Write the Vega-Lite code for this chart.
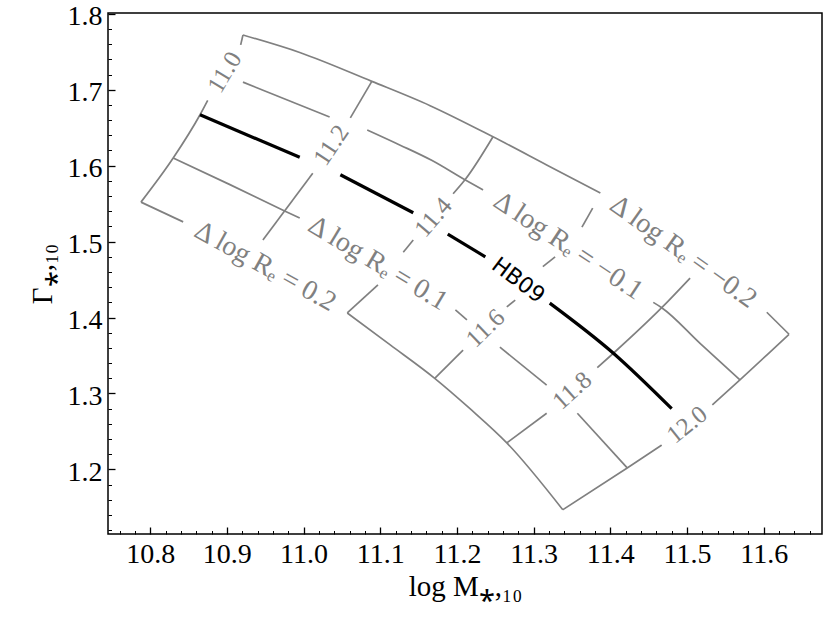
{
  "$schema": "https://vega.github.io/schema/vega-lite/v6.json",
  "width": 714,
  "height": 521,
  "autosize": "none",
  "padding": {"left": 108, "top": 13, "right": 8, "bottom": 89},
  "background": "white",
  "config": {
    "view": {"stroke": "#000", "strokeWidth": 1.5},
    "axis": {"grid": false, "domain": false}
  },
  "datasets": {
    "grid": [
      {"s": "m110a", "x": 10.788, "y": 1.552}, {"s": "m110a", "x": 10.830, "y": 1.610}, {"s": "m110a", "x": 10.865, "y": 1.667}, {"s": "m110a", "x": 10.875, "y": 1.686},
      {"s": "m110b", "x": 10.918, "y": 1.759}, {"s": "m110b", "x": 10.921, "y": 1.772},
      {"s": "rm2a", "x": 10.921, "y": 1.772}, {"s": "rm2a", "x": 10.995, "y": 1.749}, {"s": "rm2a", "x": 11.089, "y": 1.711}, {"s": "rm2a", "x": 11.165, "y": 1.679}, {"s": "rm2a", "x": 11.247, "y": 1.638}, {"s": "rm2a", "x": 11.317, "y": 1.601}, {"s": "rm2a", "x": 11.387, "y": 1.564},
      {"s": "rm2b", "x": 11.604, "y": 1.407}, {"s": "rm2b", "x": 11.633, "y": 1.378},
      {"s": "rm1a", "x": 10.921, "y": 1.710}, {"s": "rm1a", "x": 11.034, "y": 1.664},
      {"s": "rm1b", "x": 11.083, "y": 1.647}, {"s": "rm1b", "x": 11.126, "y": 1.627}, {"s": "rm1b", "x": 11.167, "y": 1.607}, {"s": "rm1b", "x": 11.211, "y": 1.581}, {"s": "rm1b", "x": 11.234, "y": 1.568},
      {"s": "rm1c", "x": 11.456, "y": 1.420}, {"s": "rm1c", "x": 11.467, "y": 1.413}, {"s": "rm1c", "x": 11.517, "y": 1.366}, {"s": "rm1c", "x": 11.569, "y": 1.318},
      {"s": "rp1a", "x": 10.830, "y": 1.610}, {"s": "rp1a", "x": 10.904, "y": 1.575}, {"s": "rp1a", "x": 10.976, "y": 1.540}, {"s": "rp1a", "x": 10.995, "y": 1.531},
      {"s": "rp1b", "x": 11.198, "y": 1.410}, {"s": "rp1b", "x": 11.213, "y": 1.397},
      {"s": "rp1c", "x": 11.256, "y": 1.361}, {"s": "rp1c", "x": 11.317, "y": 1.311},
      {"s": "rp1d", "x": 11.357, "y": 1.274}, {"s": "rp1d", "x": 11.422, "y": 1.202},
      {"s": "rp2a", "x": 10.788, "y": 1.552}, {"s": "rp2a", "x": 10.843, "y": 1.526},
      {"s": "rp2b", "x": 11.057, "y": 1.406}, {"s": "rp2b", "x": 11.113, "y": 1.364}, {"s": "rp2b", "x": 11.171, "y": 1.320}, {"s": "rp2b", "x": 11.217, "y": 1.280}, {"s": "rp2b", "x": 11.265, "y": 1.235}, {"s": "rp2b", "x": 11.338, "y": 1.147},
      {"s": "m112a", "x": 10.947, "y": 1.502}, {"s": "m112a", "x": 11.012, "y": 1.590},
      {"s": "m112b", "x": 11.061, "y": 1.663}, {"s": "m112b", "x": 11.089, "y": 1.711},
      {"s": "m114a", "x": 11.057, "y": 1.406}, {"s": "m114a", "x": 11.097, "y": 1.443},
      {"s": "m114b", "x": 11.130, "y": 1.486}, {"s": "m114b", "x": 11.143, "y": 1.502},
      {"s": "m114c", "x": 11.195, "y": 1.563}, {"s": "m114c", "x": 11.211, "y": 1.582}, {"s": "m114c", "x": 11.247, "y": 1.638},
      {"s": "m116a", "x": 11.171, "y": 1.320}, {"s": "m116a", "x": 11.208, "y": 1.357},
      {"s": "m116b", "x": 11.265, "y": 1.414}, {"s": "m116b", "x": 11.276, "y": 1.423},
      {"s": "m116c", "x": 11.312, "y": 1.467}, {"s": "m116c", "x": 11.328, "y": 1.480},
      {"s": "m116d", "x": 11.363, "y": 1.519}, {"s": "m116d", "x": 11.377, "y": 1.544},
      {"s": "m118a", "x": 11.265, "y": 1.235}, {"s": "m118a", "x": 11.317, "y": 1.274},
      {"s": "m118b", "x": 11.383, "y": 1.334}, {"s": "m118b", "x": 11.404, "y": 1.353}, {"s": "m118b", "x": 11.467, "y": 1.413}, {"s": "m118b", "x": 11.504, "y": 1.452},
      {"s": "m120a", "x": 11.338, "y": 1.147}, {"s": "m120a", "x": 11.422, "y": 1.202}, {"s": "m120a", "x": 11.467, "y": 1.232},
      {"s": "m120b", "x": 11.533, "y": 1.285}, {"s": "m120b", "x": 11.569, "y": 1.318}, {"s": "m120b", "x": 11.633, "y": 1.378}
    ],
    "hb": [
      {"s": "h1", "x": 10.865, "y": 1.667}, {"s": "h1", "x": 10.995, "y": 1.611},
      {"s": "h2", "x": 11.048, "y": 1.588}, {"s": "h2", "x": 11.143, "y": 1.538},
      {"s": "h3", "x": 11.188, "y": 1.510}, {"s": "h3", "x": 11.237, "y": 1.480},
      {"s": "h4", "x": 11.321, "y": 1.419}, {"s": "h4", "x": 11.404, "y": 1.353}, {"s": "h4", "x": 11.480, "y": 1.280}
    ],
    "labels": [
      {"t": "11.0", "x": 10.897, "y": 1.723},
      {"t": "11.2", "x": 11.036, "y": 1.627},
      {"t": "11.4", "x": 11.169, "y": 1.532},
      {"t": "11.6", "x": 11.237, "y": 1.386},
      {"t": "11.8", "x": 11.350, "y": 1.304},
      {"t": "12.0", "x": 11.500, "y": 1.259},
      {"t": "Δ log Rₑ = 0.2", "x": 10.950, "y": 1.467},
      {"t": "Δ log Rₑ = 0.1", "x": 11.097, "y": 1.471},
      {"t": "Δ log Rₑ = −0.1", "x": 11.345, "y": 1.494},
      {"t": "Δ log Rₑ = −0.2", "x": 11.495, "y": 1.486},
      {"t": "HB09", "x": 11.280, "y": 1.449}
    ]
  },
  "layer": [
    {
      "data": {"name": "grid"},
      "mark": {"type": "line", "color": "#808080", "strokeWidth": 1.7, "interpolate": "monotone"},
      "encoding": {
        "x": {"field": "x", "type": "quantitative", "scale": {"domain": [10.745, 11.676], "nice": false, "zero": false},
          "axis": {"orient": "bottom", "values": [10.8, 10.9, 11.0, 11.1, 11.2, 11.3, 11.4, 11.5, 11.6], "format": ".1f", "ticks": false, "domain": false, "grid": false,
            "labelFont": "Liberation Serif", "labelFontSize": 28, "labelColor": "#000", "labelPadding": 6, "labelFlush": false, "labelOverlap": false,
            "title": "log M⁎,₁₀", "titleFont": "Liberation Serif", "titleFontSize": 29, "titleFontWeight": "normal", "titleColor": "#000", "titlePadding": 4}},
        "y": {"field": "y", "type": "quantitative", "scale": {"domain": [1.115, 1.801], "nice": false, "zero": false},
          "axis": {"orient": "left", "values": [1.2, 1.3, 1.4, 1.5, 1.6, 1.7, 1.8], "format": ".1f", "ticks": false, "domain": false, "grid": false,
            "labelFont": "Liberation Serif", "labelFontSize": 28, "labelColor": "#000", "labelPadding": 6, "labelFlush": false, "labelOverlap": false,
            "labelBaseline": "alphabetic", "labelOffset": 11,
            "title": "Γ⁎,₁₀", "titleFont": "Liberation Serif", "titleFontSize": 29, "titleFontWeight": "normal", "titleColor": "#000", "titlePadding": 10}},
        "detail": {"field": "s"}
      }
    },
    {
      "data": {"name": "hb"},
      "mark": {"type": "line", "color": "#000", "strokeWidth": 3.2, "interpolate": "monotone"},
      "encoding": {
        "x": {"field": "x", "type": "quantitative",
          "axis": {"orient": "bottom", "values": [10.8, 10.9, 11.0, 11.1, 11.2, 11.3, 11.4, 11.5, 11.6], "labels": false, "ticks": true, "tickSize": -7, "tickColor": "#000", "tickWidth": 1.3, "domain": false, "grid": false, "title": null}},
        "y": {"field": "y", "type": "quantitative",
          "axis": {"orient": "left", "values": [1.2, 1.3, 1.4, 1.5, 1.6, 1.7, 1.8], "labels": false, "ticks": true, "tickSize": -7, "tickColor": "#000", "tickWidth": 1.3, "domain": false, "grid": false, "title": null}},
        "detail": {"field": "s"}
      }
    },
    {
      "data": {"name": "grid"},
      "mark": {"type": "point", "opacity": 0},
      "encoding": {
        "x": {"field": "x", "type": "quantitative",
          "axis": {"orient": "bottom", "values": [10.76, 10.78, 10.82, 10.84, 10.86, 10.88, 10.92, 10.94, 10.96, 10.98, 11.02, 11.04, 11.06, 11.08, 11.12, 11.14, 11.16, 11.18, 11.22, 11.24, 11.26, 11.28, 11.32, 11.34, 11.36, 11.38, 11.42, 11.44, 11.46, 11.48, 11.52, 11.54, 11.56, 11.58, 11.62, 11.64, 11.66], "labels": false, "ticks": true, "tickSize": -3.5, "tickColor": "#000", "tickWidth": 1, "domain": false, "grid": false, "title": null}},
        "y": {"field": "y", "type": "quantitative",
          "axis": {"orient": "left", "values": [1.12, 1.14, 1.16, 1.18, 1.22, 1.24, 1.26, 1.28, 1.32, 1.34, 1.36, 1.38, 1.42, 1.44, 1.46, 1.48, 1.52, 1.54, 1.56, 1.58, 1.62, 1.64, 1.66, 1.68, 1.72, 1.74, 1.76, 1.78], "labels": false, "ticks": true, "tickSize": -3.5, "tickColor": "#000", "tickWidth": 1, "domain": false, "grid": false, "title": null}}
      }
    },
    {
      "data": {"name": "labels"}, "transform": [{"filter": "datum.t === '11.0'"}],
      "mark": {"type": "text", "angle": 301, "font": "Liberation Serif", "fontSize": 25, "color": "#808080", "align": "center", "baseline": "middle"},
      "encoding": {"x": {"field": "x", "type": "quantitative", "axis": null}, "y": {"field": "y", "type": "quantitative", "axis": null}, "text": {"field": "t"}}
    },
    {
      "data": {"name": "labels"}, "transform": [{"filter": "datum.t === '11.2'"}],
      "mark": {"type": "text", "angle": 304, "font": "Liberation Serif", "fontSize": 25, "color": "#808080", "align": "center", "baseline": "middle"},
      "encoding": {"x": {"field": "x", "type": "quantitative", "axis": null}, "y": {"field": "y", "type": "quantitative", "axis": null}, "text": {"field": "t"}}
    },
    {
      "data": {"name": "labels"}, "transform": [{"filter": "datum.t === '11.4'"}],
      "mark": {"type": "text", "angle": 311, "font": "Liberation Serif", "fontSize": 25, "color": "#808080", "align": "center", "baseline": "middle"},
      "encoding": {"x": {"field": "x", "type": "quantitative", "axis": null}, "y": {"field": "y", "type": "quantitative", "axis": null}, "text": {"field": "t"}}
    },
    {
      "data": {"name": "labels"}, "transform": [{"filter": "datum.t === '11.6'"}],
      "mark": {"type": "text", "angle": 316, "font": "Liberation Serif", "fontSize": 25, "color": "#808080", "align": "center", "baseline": "middle"},
      "encoding": {"x": {"field": "x", "type": "quantitative", "axis": null}, "y": {"field": "y", "type": "quantitative", "axis": null}, "text": {"field": "t"}}
    },
    {
      "data": {"name": "labels"}, "transform": [{"filter": "datum.t === '11.8'"}],
      "mark": {"type": "text", "angle": 318, "font": "Liberation Serif", "fontSize": 25, "color": "#808080", "align": "center", "baseline": "middle"},
      "encoding": {"x": {"field": "x", "type": "quantitative", "axis": null}, "y": {"field": "y", "type": "quantitative", "axis": null}, "text": {"field": "t"}}
    },
    {
      "data": {"name": "labels"}, "transform": [{"filter": "datum.t === '12.0'"}],
      "mark": {"type": "text", "angle": 321, "font": "Liberation Serif", "fontSize": 25, "color": "#808080", "align": "center", "baseline": "middle"},
      "encoding": {"x": {"field": "x", "type": "quantitative", "axis": null}, "y": {"field": "y", "type": "quantitative", "axis": null}, "text": {"field": "t"}}
    },
    {
      "data": {"name": "labels"}, "transform": [{"filter": "datum.t === 'Δ log Rₑ = 0.2'"}],
      "mark": {"type": "text", "angle": 29, "font": "Liberation Serif", "fontSize": 28, "color": "#808080", "align": "center", "baseline": "middle"},
      "encoding": {"x": {"field": "x", "type": "quantitative", "axis": null}, "y": {"field": "y", "type": "quantitative", "axis": null}, "text": {"field": "t"}}
    },
    {
      "data": {"name": "labels"}, "transform": [{"filter": "datum.t === 'Δ log Rₑ = 0.1'"}],
      "mark": {"type": "text", "angle": 31, "font": "Liberation Serif", "fontSize": 28, "color": "#808080", "align": "center", "baseline": "middle"},
      "encoding": {"x": {"field": "x", "type": "quantitative", "axis": null}, "y": {"field": "y", "type": "quantitative", "axis": null}, "text": {"field": "t"}}
    },
    {
      "data": {"name": "labels"}, "transform": [{"filter": "datum.t === 'Δ log Rₑ = −0.1'"}],
      "mark": {"type": "text", "angle": 33.5, "font": "Liberation Serif", "fontSize": 28, "color": "#808080", "align": "center", "baseline": "middle"},
      "encoding": {"x": {"field": "x", "type": "quantitative", "axis": null}, "y": {"field": "y", "type": "quantitative", "axis": null}, "text": {"field": "t"}}
    },
    {
      "data": {"name": "labels"}, "transform": [{"filter": "datum.t === 'Δ log Rₑ = −0.2'"}],
      "mark": {"type": "text", "angle": 35.5, "font": "Liberation Serif", "fontSize": 28, "color": "#808080", "align": "center", "baseline": "middle"},
      "encoding": {"x": {"field": "x", "type": "quantitative", "axis": null}, "y": {"field": "y", "type": "quantitative", "axis": null}, "text": {"field": "t"}}
    },
    {
      "data": {"name": "labels"}, "transform": [{"filter": "datum.t === 'HB09'"}],
      "mark": {"type": "text", "angle": 37, "font": "DejaVu Sans", "fontSize": 22, "color": "#000", "align": "center", "baseline": "middle"},
      "encoding": {"x": {"field": "x", "type": "quantitative", "axis": null}, "y": {"field": "y", "type": "quantitative", "axis": null}, "text": {"field": "t"}}
    }
  ],
  "resolve": {"axis": {"x": "independent", "y": "independent"}}
}
